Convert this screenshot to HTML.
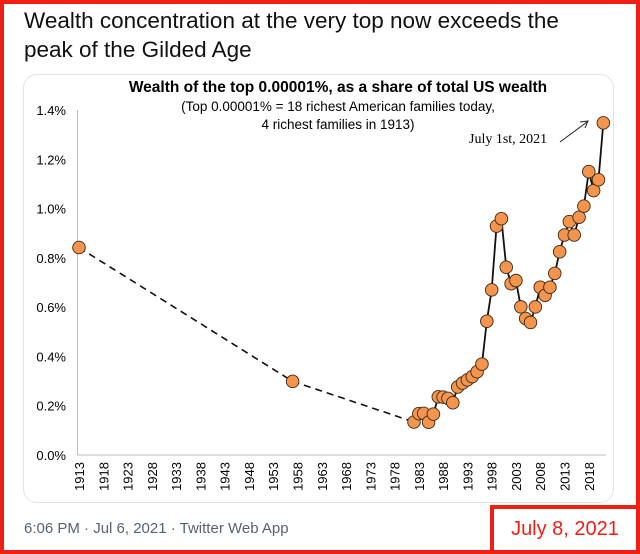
<!DOCTYPE html>
<html><head><meta charset="utf-8"><style>
body{margin:0;width:640px;height:554px;overflow:hidden;background:#fff;font-family:"Liberation Sans",sans-serif;}
#frame{position:absolute;left:0;top:0;width:632px;height:546px;border:4px solid #f01e14;}
#h{position:absolute;left:24px;top:6px;font-size:22.5px;line-height:29px;color:#111;width:610px;white-space:nowrap;}
#card{position:absolute;left:23px;top:74px;width:589px;height:427px;border:1px solid #dfe3e8;border-radius:14px;}
#foot{position:absolute;left:24px;top:520px;font-size:15px;color:#536471;}
#datebox{position:absolute;left:490px;top:505px;width:142px;height:41px;border:4px solid #f01e14;color:#f01e14;font-size:20px;text-align:center;line-height:41px;background:#fff;}
</style></head><body>
<div id="frame"></div>
<div id="h">Wealth concentration at the very top now exceeds the<br>peak of the Gilded Age</div>
<div id="card"></div>
<svg id="chart" width="640" height="554" style="position:absolute;left:0;top:0">
<text x="338" y="92" text-anchor="middle" font-size="15.5" font-weight="bold" font-family="Liberation Sans">Wealth of the top 0.00001%, as a share of total US wealth</text>
<text x="338" y="111" text-anchor="middle" font-size="13.5" font-family="Liberation Sans">(Top 0.00001% = 18 richest American families today,</text>
<text x="338" y="129" text-anchor="middle" font-size="13.5" font-family="Liberation Sans">4 richest families in 1913)</text>
<text x="469" y="143" font-size="14" font-family="Liberation Serif">July 1st, 2021</text>
<line x1="560" y1="142" x2="587" y2="122" stroke="#222" stroke-width="1"/>
<polyline points="580,122 588,121 585,128" fill="none" stroke="#222" stroke-width="1"/>
<g id="g"></g>
</svg>
<div id="foot">6:06 PM · Jul 6, 2021 · Twitter Web App</div>
<div id="datebox">July 8, 2021</div>
<script>
const years=[1913,1957,1982,1983,1984,1985,1986,1987,1988,1989,1990,1991,1992,1993,1994,1995,1996,1997,1998,1999,2000,2001,2002,2003,2004,2005,2006,2007,2008,2009,2010,2011,2012,2013,2014,2015,2016,2017,2018,2019,2020,2021];
const shares=[0.842,0.299,0.134,0.168,0.169,0.133,0.166,0.236,0.235,0.230,0.212,0.276,0.292,0.305,0.318,0.338,0.369,0.543,0.670,0.929,0.959,0.762,0.695,0.708,0.601,0.554,0.538,0.601,0.681,0.648,0.681,0.737,0.825,0.893,0.947,0.893,0.965,1.010,1.150,1.073,1.117,1.348];
const yTicks=[0,0.2,0.4,0.6,0.8,1.0,1.2,1.4];
const xTicks=[1913,1918,1923,1928,1933,1938,1943,1948,1953,1958,1963,1968,1973,1978,1983,1988,1993,1998,2003,2008,2013,2018];
const NS="http://www.w3.org/2000/svg",g=document.getElementById('g');
const X=y=>79+(y-1913)*4.855, Y=v=>455-v*246.4;
function mk(t,a){const e=document.createElementNS(NS,t);for(const k in a)e.setAttribute(k,a[k]);g.appendChild(e);return e;}
let e=mk('line',{x1:77.5,y1:110,x2:77.5,y2:455,stroke:'#bbb'});


e=mk('line',{x1:77.5,y1:455,x2:606,y2:455,stroke:'#bbb'});


yTicks.forEach(v=>{const t=mk('text',{x:66,y:Y(v)+5,'text-anchor':'end','font-size':13,'font-family':'Liberation Sans'});t.textContent=v.toFixed(1)+'%';

});
xTicks.forEach(v=>{const x=X(v)+5,t=mk('text',{x:x,y:462,'text-anchor':'end','font-size':13,'font-family':'Liberation Sans',transform:`rotate(-90 ${x} 462)`});t.textContent=v;

});
const dash=years.slice(0,3).map((y,i)=>X(y)+','+Y(shares[i])).join(' ');
e=mk('polyline',{points:dash,fill:'none',stroke:'#111','stroke-width':1.6,'stroke-dasharray':'7,5'});


const sol=years.slice(2).map((y,i)=>X(y)+','+Y(shares[i+2])).join(' ');
e=mk('polyline',{points:sol,fill:'none',stroke:'#111','stroke-width':1.8});


years.forEach((y,i)=>{const c=mk('circle',{cx:X(y),cy:Y(shares[i]),r:6.3,fill:'#f5944c',stroke:'#3a2a1a','stroke-width':0.9});

});
</script>
</body></html>
